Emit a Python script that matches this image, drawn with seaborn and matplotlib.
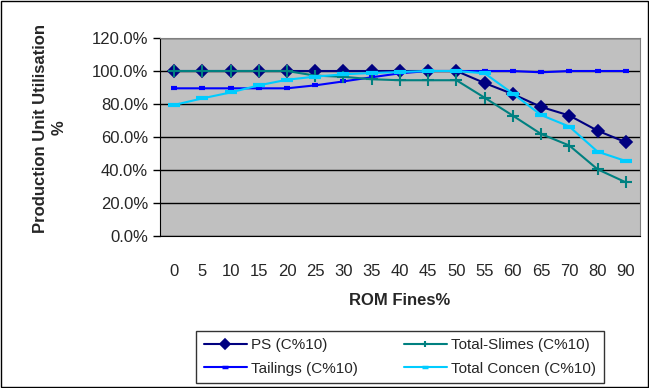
import numpy as np
import pandas as pd
import seaborn as sns
import matplotlib.pyplot as plt
from matplotlib.ticker import FuncFormatter

# ROM fines categories (x axis)
fines = ["0", "5", "10", "15", "20", "25", "30", "35", "40", "45",
         "50", "55", "60", "65", "70", "80", "90"]

# utilisation values (%)
ps = [100, 100, 100, 100, 100, 100, 100, 100, 100, 100,
      100, 92.7, 86.0, 78.2, 73.0, 63.8, 56.8]
tailings = [89.5, 89.5, 89.5, 89.5, 89.5, 91.3, 93.7, 96.2, 98.6, 100,
            100, 100, 100, 99.2, 100, 100, 100]
slimes = [100, 100, 100, 100, 100, 97.2, 96.5, 95.0, 94.4, 94.4,
          94.4, 83.8, 72.9, 61.8, 54.8, 40.4, 32.5]
concen = [79.4, 83.4, 87.0, 91.3, 94.7, 96.6, 98.0, 98.8, 99.4, 100,
          100, 98.6, 86.3, 73.3, 66.3, 51.1, 45.4]

# name: (values, colour, marker, size, edge width)
series = {
    "PS (C%10)": (ps, "#000080", "D", 6, 1.2),
    "Tailings (C%10)": (tailings, "#0000FF", "_", 5, 3),
    "Total-Slimes (C%10)": (slimes, "#008080", "+", 8, 1.5),
    "Total Concen (C%10)": (concen, "#00CCFF", "_", 8, 3),
}

sns.set_style("white")
plt.rcParams["font.family"] = ["Liberation Sans", "DejaVu Sans"]

fig = plt.figure(figsize=(6.49, 3.88), dpi=100)
ax = fig.add_axes([0.2465, 0.392, 0.7395, 0.510])
ax.set_facecolor("#C0C0C0")

idx = np.arange(len(fines))
for name, (vals, col, mk, ms, mew) in series.items():
    df = pd.DataFrame({"x": idx, "y": np.array(vals) / 100})
    sns.lineplot(data=df, x="x", y="y", ax=ax, color=col, marker=mk,
                 markersize=ms, linewidth=1.5, markeredgecolor=col,
                 markeredgewidth=mew, label=name)

ax.set_xlim(-0.5, len(fines) - 0.5)
ax.set_ylim(0, 1.2)
ax.set_yticks(np.arange(0, 1.21, 0.2))
ax.yaxis.set_major_formatter(FuncFormatter(lambda v, p: f"{v*100:.1f}%"))
ax.grid(axis="y", color="black", linewidth=1)
ax.set_axisbelow(True)

ax.set_xticks(idx)
ax.set_xticklabels(fines)
ax.set_xticks(np.arange(-0.5, len(fines), 1), minor=True)
ax.tick_params(axis="x", which="major", length=0, labelsize=12, pad=20)
ax.tick_params(axis="x", which="minor", length=5, color="black", width=1)
ax.tick_params(axis="y", length=5, color="black", width=1, labelsize=12, left=True)

for s in ["top", "right"]:
    ax.spines[s].set_color("#808080")
for s in ["left", "bottom"]:
    ax.spines[s].set_color("black")

ax.set_xlabel("ROM Fines%", fontsize=12, fontweight="bold", labelpad=10)
ax.set_ylabel("Production Unit Utilisation\n%", fontsize=12, fontweight="bold",
              linespacing=1.35)
ax.yaxis.set_label_coords(-0.194, 0.545)

leg = ax.legend(loc="center", bbox_to_anchor=(400 / 649, 1 - 357 / 388),
                bbox_transform=fig.transFigure, ncol=2, fontsize=11,
                frameon=True, fancybox=False, edgecolor="black",
                handlelength=2.8, handletextpad=0.3, columnspacing=3.0,
                borderpad=0.5, labelspacing=0.6)
leg.get_frame().set_linewidth(1)
for ln in leg.get_lines():
    ln.set_markersize(5)
    if ln.get_marker() == "_":
        ln.set_markeredgewidth(2.5)

fig.patches.append(plt.Rectangle((0.001, 0.002), 0.997, 0.996, transform=fig.transFigure,
                                 fill=False, edgecolor="black", linewidth=1))

fig.savefig("out.png", dpi=100)
